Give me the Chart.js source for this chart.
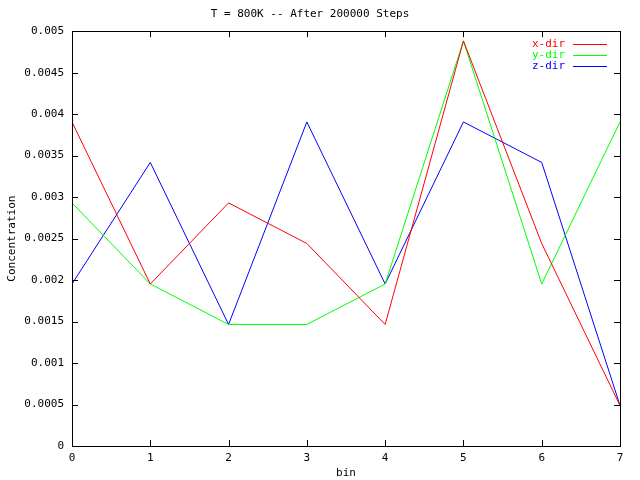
<!DOCTYPE html>
<html>
<head>
<meta charset="utf-8">
<script src="https://cdn.jsdelivr.net/npm/chart.js@4.4.1/dist/chart.umd.min.js"></script>
<style>
  html, body { margin: 0; padding: 0; background: #fff; }
  #wrap { width: 640px; height: 480px; }
</style>
</head>
<body>
<div id="wrap"><canvas id="chart" width="640" height="480"></canvas></div>
<script>
// bins along x
var bins = [0, 1, 2, 3, 4, 5, 6, 7];

// concentration per bin
var xDir = [0.003906, 0.001953, 0.002930, 0.002441, 0.001465, 0.004883, 0.002441, 0.000488];
var yDir = [0.002930, 0.001953, 0.001465, 0.001465, 0.001953, 0.004883, 0.001953, 0.003906];
var zDir = [0.001953, 0.003418, 0.001465, 0.003906, 0.001953, 0.003906, 0.003418, 0.000488];

var seriesNames = ["x-dir", "y-dir", "z-dir"];
var seriesColours = ["#ff0000", "#00ff00", "#0000ff"];

var FONT = "DejaVu Sans Mono";

function toPoints(vals) {
  return bins.map(function (b, i) { return { x: b, y: vals[i] }; });
}

// box round the plot, with inward ticks on all four sides
var frame = {
  id: "frame",
  afterDatasetsDraw: function (chart) {
    var ctx = chart.ctx;
    var a = chart.chartArea;
    var xs = chart.scales.x, ys = chart.scales.y;
    var len = 6;
    ctx.save();
    ctx.strokeStyle = "#000";
    ctx.lineWidth = 1;
    ctx.strokeRect(Math.round(a.left) + 0.5, Math.round(a.top) + 0.5,
                   Math.round(a.right - a.left), Math.round(a.bottom - a.top));
    ctx.beginPath();
    xs.ticks.forEach(function (t) {
      var px = Math.round(xs.getPixelForValue(t.value)) + 0.5;
      ctx.moveTo(px, a.bottom); ctx.lineTo(px, a.bottom - len);
      ctx.moveTo(px, a.top); ctx.lineTo(px, a.top + len);
    });
    ys.ticks.forEach(function (t) {
      var py = Math.round(ys.getPixelForValue(t.value)) + 0.5;
      ctx.moveTo(a.left, py); ctx.lineTo(a.left + len, py);
      ctx.moveTo(a.right, py); ctx.lineTo(a.right - len, py);
    });
    ctx.stroke();

    // key, top right inside the box
    ctx.font = "11px '" + FONT + "'";
    ctx.textAlign = "right";
    ctx.textBaseline = "middle";
    chart.data.datasets.forEach(function (ds, i) {
      var y = Math.round(a.top + 13 + i * 11);
      ctx.fillStyle = seriesColours[i];
      ctx.fillText(ds.label, a.right - 55, y);
      ctx.fillRect(Math.round(a.right - 47), y, 34, 1);
    });
    ctx.restore();
  }
};

new Chart(document.getElementById("chart"), {
  type: "line",
  data: {
    datasets: [
      { label: seriesNames[0], data: toPoints(xDir), borderColor: seriesColours[0] },
      { label: seriesNames[1], data: toPoints(yDir), borderColor: seriesColours[1] },
      { label: seriesNames[2], data: toPoints(zDir), borderColor: seriesColours[2] }
    ]
  },
  options: {
    responsive: false,
    animation: false,
    devicePixelRatio: 1,
    layout: { padding: { top: 0, right: 20, left: 0, bottom: 0 } },
    elements: {
      line: { borderWidth: 1, tension: 0, fill: false },
      point: { radius: 0 }
    },
    plugins: {
      legend: { display: false },
      tooltip: { enabled: false },
      title: {
        display: true,
        text: "T = 800K -- After 200000 Steps",
        color: "#000",
        font: { family: FONT, size: 11, weight: "normal" },
        padding: { top: 8, bottom: 10 }
      }
    },
    scales: {
      x: {
        type: "linear",
        min: 0, max: 7,
        afterFit: function (s) { s.height = 34; },
        grid: { display: false, drawTicks: false, tickLength: 0 },
        border: { display: false },
        ticks: {
          stepSize: 1, color: "#000", padding: 6, maxRotation: 0,
          font: { family: FONT, size: 11 }
        },
        title: {
          display: true, text: "bin", color: "#000",
          font: { family: FONT, size: 11 },
          padding: { top: 0, bottom: 0 }
        }
      },
      y: {
        min: 0, max: 0.005,
        afterFit: function (s) { s.width = 72; },
        grid: { display: false, drawTicks: false, tickLength: 0 },
        border: { display: false },
        ticks: {
          stepSize: 0.0005, color: "#000", padding: 8,
          font: { family: FONT, size: 11 },
          callback: function (v) { return String(Number(v.toFixed(4))); }
        },
        title: {
          display: true, text: "Concentration", color: "#000",
          font: { family: FONT, size: 11 },
          padding: { top: 6, bottom: 0 }
        }
      }
    }
  },
  plugins: [frame]
});
</script>
</body>
</html>
